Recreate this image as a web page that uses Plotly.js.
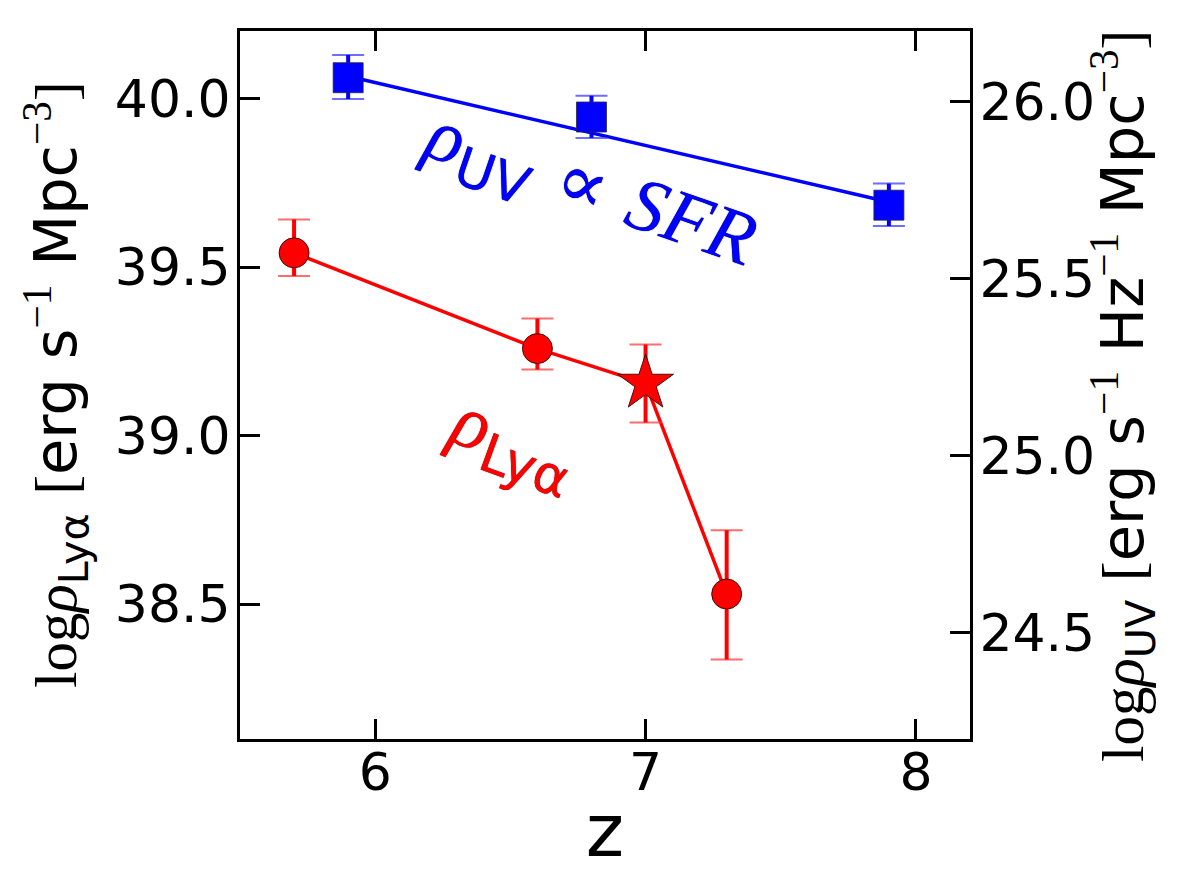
<!DOCTYPE html>
<html>
<head>
<meta charset="utf-8">
<script src="https://cdn.plot.ly/plotly-3.0.1.min.js"></script>
<style>html,body{margin:0;padding:0;background:#fff;}</style>
</head>
<body>
<div id="chart" style="width:1178px;height:873px;"></div>
<script>
// Lyman-alpha luminosity density (left axis)
const zLya = [5.7, 6.6, 7.3];
const logLya = [39.542, 39.258, 38.530];
const lyaErrUp = [0.099, 0.089, 0.189];
const lyaErrDn = [0.069, 0.062, 0.194];
// star point (z = 7.0)
const zStar = [7.0];
const logStar = [39.155];
const starErrUp = [0.115];
const starErrDn = [0.116];
// UV luminosity density (right axis)
const zUV = [5.9, 6.8, 7.9];
const logUV = [26.068, 25.957, 25.708];
const uvErrUp = [0.064, 0.060, 0.061];
const uvErrDn = [0.060, 0.059, 0.059];
// UV trend line
const zUVFit = [5.9, 7.9];
const logUVFit = [26.072, 25.717];
// ticks
const xTicks = [6, 7, 8];

// red connecting line through all Lya points (sorted by z)
const lyaAll = zLya.map((z, i) => [z, logLya[i]]).concat(zStar.map((z, i) => [z, logStar[i]]))
  .sort((a, b) => a[0] - b[0]);

const RED = '#ff0000', BLUE = '#0000ff';
const SERIF = 'Liberation Serif';
const SANS = 'DejaVu Sans';

const traces = [
  {x: zUVFit, y: logUVFit, yaxis: 'y2', mode: 'lines', line: {color: BLUE, width: 3.5}, hoverinfo: 'skip'},
  {x: zUV, y: logUV, yaxis: 'y2', mode: 'markers', marker: {opacity: 0, size: 1},
   error_y: {type: 'data', symmetric: false, array: uvErrUp, arrayminus: uvErrDn, color: 'rgba(60,60,255,0.75)', thickness: 2, width: 16}},
  {x: zUV, y: logUV, yaxis: 'y2', mode: 'markers',
   marker: {symbol: 'square', size: 30, color: BLUE, line: {color: 'rgba(40,40,60,0.8)', width: 1}},
   error_y: {type: 'data', symmetric: false, array: uvErrUp, arrayminus: uvErrDn, color: BLUE, thickness: 4, width: 0}},
  {x: lyaAll.map(p => p[0]), y: lyaAll.map(p => p[1]), mode: 'lines', line: {color: RED, width: 3.5}, hoverinfo: 'skip'},
  {x: zLya.concat(zStar), y: logLya.concat(logStar), mode: 'markers', marker: {opacity: 0, size: 1},
   error_y: {type: 'data', symmetric: false, array: lyaErrUp.concat(starErrUp), arrayminus: lyaErrDn.concat(starErrDn), color: 'rgba(255,60,60,0.75)', thickness: 2, width: 16}},
  {x: zLya, y: logLya, mode: 'markers',
   marker: {symbol: 'circle', size: 30, color: RED, line: {color: 'rgba(40,0,0,0.85)', width: 1}},
   error_y: {type: 'data', symmetric: false, array: lyaErrUp, arrayminus: lyaErrDn, color: RED, thickness: 4, width: 0}},
  {x: zStar, y: logStar, mode: 'markers',
   marker: {symbol: 'star', size: 42, color: RED, line: {color: 'rgba(40,0,0,0.85)', width: 1}},
   error_y: {type: 'data', symmetric: false, array: starErrUp, arrayminus: starErrDn, color: RED, thickness: 4, width: 0}}
];

const sp = (fam, t) => `<span style="font-family:${fam}">${t}</span>`;

const leftTitle = sp(SERIF, 'log') + sp(SERIF, '<i>ρ</i>') + '<sub>Lyα</sub> ' + sp(SERIF, '[') + 'erg s' +
  sp(SERIF, '<sup>−1</sup>') + ' Mpc' + sp(SERIF, '<sup>−3</sup>') + sp(SERIF, ']');
const rightTitle = sp(SERIF, 'log') + sp(SERIF, '<i>ρ</i>') + '<sub>UV</sub> ' + sp(SERIF, '[') + 'erg s' +
  sp(SERIF, '<sup>−1</sup>') + ' Hz' + sp(SERIF, '<sup>−1</sup>') + ' Mpc' + sp(SERIF, '<sup>−3</sup>') + sp(SERIF, ']');

const axCommon = {
  showgrid: false, zeroline: false, showline: true, linecolor: '#000', linewidth: 3,
  ticks: 'inside', ticklen: 20, tickwidth: 3, tickcolor: '#000',
  tickfont: {family: SANS, size: 52, color: '#000'}
};

const layout = {
  width: 1178, height: 873,
  margin: {l: 240, r: 208, t: 31, b: 134},
  paper_bgcolor: '#fff', plot_bgcolor: '#fff',
  showlegend: false,
  xaxis: Object.assign({}, axCommon, {
    range: [5.5, 8.2], tickvals: xTicks, mirror: 'ticks', ticklabelstandoff: -14,
    title: {text: 'z', font: {family: SANS, size: 73, color: '#000'}}
  }),
  yaxis: Object.assign({}, axCommon, {
    range: [38.1, 40.2], tick0: 38.5, dtick: 0.5, tickformat: '.1f', ticklabelstandoff: -4
  }),
  yaxis2: Object.assign({}, axCommon, {
    overlaying: 'y', side: 'right',
    range: [24.2, 26.2], tick0: 24.5, dtick: 0.5, tickformat: '.1f', ticklabelstandoff: -4
  }),
  annotations: [
    // y-axis titles
    {xref: 'paper', yref: 'paper', x: (56 - 240) / 730, y: (739 - 385) / 708, xanchor: 'center', yanchor: 'middle',
     showarrow: false, textangle: -90, text: leftTitle, font: {family: SANS, size: 59, color: '#000'}},
    {xref: 'paper', yref: 'paper', x: (1123 - 240) / 730, y: (739 - 396) / 708, xanchor: 'center', yanchor: 'middle',
     showarrow: false, textangle: -90, text: rightTitle, font: {family: SANS, size: 59, color: '#000'}},
    // in-plot labels
    {xref: 'paper', yref: 'paper', x: (589 - 240) / 730, y: (739 - 190) / 708, xanchor: 'center', yanchor: 'middle',
     showarrow: false, textangle: 19,
     text: sp(SERIF, '<i>ρ</i>') + '<sub>UV</sub> ' + sp('DejaVu Serif', '∝') + ' ' + sp(SERIF, '<i>SFR</i>'),
     font: {family: SANS, size: 76, color: BLUE, shadow: '0px 0px 1px #000'}},
    {xref: 'paper', yref: 'paper', x: (513 - 240) / 730, y: (739 - 443) / 708, xanchor: 'center', yanchor: 'middle',
     showarrow: false, textangle: 20,
     text: sp(SERIF, '<i>ρ</i>') + '<sub>Lyα</sub>',
     font: {family: SANS, size: 76, color: RED, shadow: '0px 0px 1px #000'}}
  ]
};

Plotly.newPlot('chart', traces, layout, {displayModeBar: false, staticPlot: true});
</script>
</body>
</html>
